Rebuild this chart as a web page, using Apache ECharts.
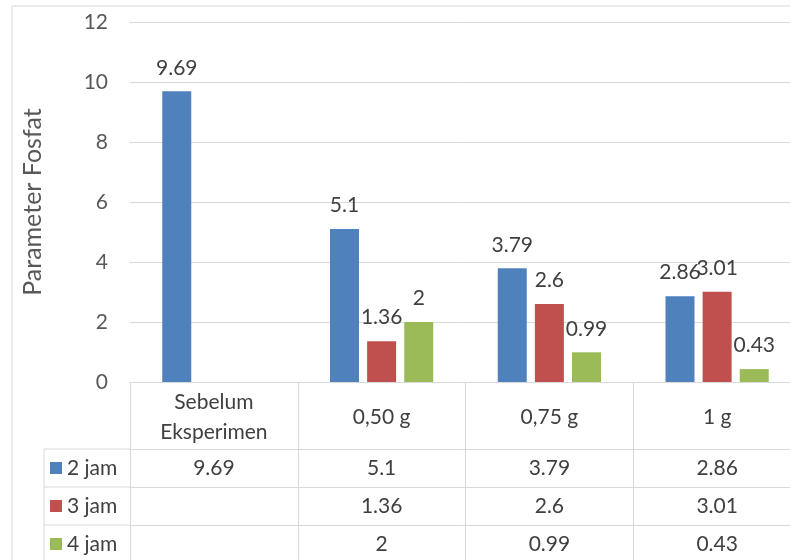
<!DOCTYPE html>
<html>
<head>
<meta charset="utf-8">
<script src="https://cdn.jsdelivr.net/npm/echarts@6/dist/echarts.min.js"></script>
<style>
  html, body { margin: 0; padding: 0; background: #fff; }
  #chart { width: 790px; height: 560px; }
</style>
</head>
<body>
<div id="chart"></div>
<script>
const categories = ["Sebelum\nEksperimen", "0,50 g", "0,75 g", "1 g"];
const seriesNames = ["2 jam", "3 jam", "4 jam"];
const jam2 = [9.69, 5.1, 3.79, 2.86];
const jam3 = [null, 1.36, 2.6, 3.01];
const jam4 = [null, 2, 0.99, 0.43];
const colors = ["#4F81BD", "#C0504D", "#9BBB59"];

const font = "Lato, 'Open Sans', sans-serif";
const fs = 21;
const grey = "#d9d9d9";
const rows = [jam2, jam3, jam4];

// table rows drawn as extra category axes under the plot
const rowAxes = rows.map(function (vals, i) {
  return {
    type: "category",
    gridIndex: 0,
    position: "bottom",
    offset: 67 + i * 38,
    data: vals.map(function (v) { return v == null ? "" : String(v); }),
    axisLine: { show: true, lineStyle: { color: grey, width: 1 } },
    axisTick: { show: false },
    axisLabel: { margin: 19, verticalAlign: "middle", color: "#404040", fontSize: fs, fontFamily: font }
  };
});

const chart = echarts.init(document.getElementById("chart"));
chart.setOption({
  animation: false,
  color: colors,
  grid: { left: 130, top: 22, width: 671, height: 360, outerBoundsMode: "none" },
  legend: {
    orient: "vertical",
    left: 50,
    top: 457,
    padding: 0,
    itemWidth: 12,
    itemHeight: 12,
    itemGap: 16,
    selectedMode: false,
    icon: "rect",
    data: seriesNames,
    textStyle: { color: "#404040", fontSize: fs, fontFamily: font, lineHeight: 22 }
  },
  xAxis: [{
    type: "category",
    data: categories,
    axisLine: { lineStyle: { color: grey } },
    axisTick: { show: true, length: 190, lineStyle: { color: grey } },
    axisLabel: {
      margin: 35, verticalAlign: "middle", lineHeight: 30,
      color: "#404040", fontSize: fs, fontFamily: font
    }
  }].concat(rowAxes),
  yAxis: {
    type: "value",
    min: 0,
    max: 12,
    interval: 2,
    name: "Parameter Fosfat",
    nameLocation: "middle",
    nameGap: 85,
    nameRotate: 90,
    nameTextStyle: { color: "#595959", fontSize: 25, fontFamily: font },
    axisLine: { show: false },
    axisTick: { show: false },
    axisLabel: { margin: 22, color: "#595959", fontSize: fs, fontFamily: font },
    splitLine: { lineStyle: { color: grey } }
  },
  series: rows.map(function (vals, i) {
    return {
      name: seriesNames[i],
      type: "bar",
      data: vals,
      barWidth: 29,
      barGap: "28%",
      label: {
        show: true, position: "top", distance: 13,
        color: "#404040", fontSize: fs, fontFamily: font
      }
    };
  }),
  graphic: [
    { type: "rect", shape: { x: 12, y: 6, width: 800, height: 600 }, style: { fill: null, stroke: grey, lineWidth: 1 } },
    { type: "line", shape: { x1: 44, y1: 449, x2: 130, y2: 449 }, style: { stroke: grey, lineWidth: 1 } },
    { type: "line", shape: { x1: 44, y1: 487, x2: 130, y2: 487 }, style: { stroke: grey, lineWidth: 1 } },
    { type: "line", shape: { x1: 44, y1: 525, x2: 130, y2: 525 }, style: { stroke: grey, lineWidth: 1 } },
    { type: "line", shape: { x1: 44, y1: 449, x2: 44, y2: 580 }, style: { stroke: grey, lineWidth: 1 } }
  ]
});
</script>
</body>
</html>
